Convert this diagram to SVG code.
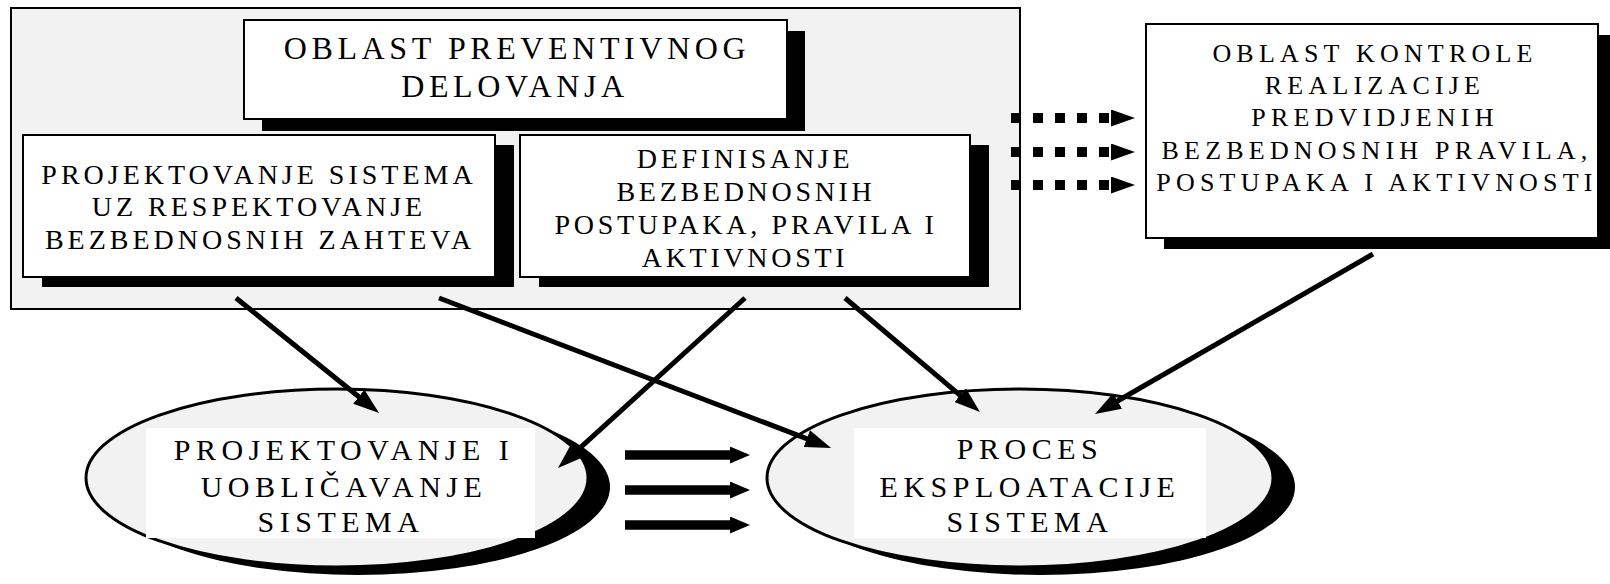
<svg xmlns="http://www.w3.org/2000/svg" width="1610" height="584" viewBox="0 0 1610 584">
<style>
.t{font-family:"Liberation Serif","Times New Roman",serif;fill:#000;text-anchor:middle}
.box{fill:#fff;stroke:#000;stroke-width:2}
.sh{fill:#000}
.conn{stroke:#000;stroke-width:5;fill:none}
.fat{stroke:#000;stroke-width:9.5;fill:none}
.dot{stroke:#000;stroke-width:10;stroke-dasharray:10 12;fill:none}
.ell{fill:#f2f2f2;stroke:#000;stroke-width:3}
</style>
<defs>
<marker id="ah" markerUnits="userSpaceOnUse" markerWidth="26" markerHeight="18" refX="4" refY="9" orient="auto">
<path d="M0,0 L26,9 L0,18 z" fill="#000"/>
</marker>
<marker id="ahf" markerUnits="userSpaceOnUse" markerWidth="20" markerHeight="17" refX="0" refY="8.5" orient="auto">
<path d="M0,0 L20,8.5 L0,17 z" fill="#000"/>
</marker>
<marker id="ahd" markerUnits="userSpaceOnUse" markerWidth="24" markerHeight="17" refX="0" refY="8.5" orient="auto">
<path d="M0,0 L24,8.5 L0,17 z" fill="#000"/>
</marker>
</defs>
<rect width="1610" height="584" fill="#fff"/>

<g id="preventive-area">
<rect x="11" y="8" width="1009" height="301" fill="#f2f2f2" stroke="#000" stroke-width="2"/>
</g>

<g id="title">
<rect class="sh" x="262" y="31" width="543" height="100"/>
<rect class="box" x="244" y="20" width="543" height="99"/>
<text class="t" font-size="32" letter-spacing="4.6" x="517" y="59">OBLAST PREVENTIVNOG</text>
<text class="t" font-size="32" letter-spacing="4.6" x="515" y="97">DELOVANJA</text>
</g>

<g id="design-box">
<rect class="sh" x="42" y="145" width="472" height="142"/>
<rect class="box" x="23" y="135" width="472" height="142"/>
<text class="t" font-size="28" letter-spacing="4" x="259" y="184">PROJEKTOVANJE SISTEMA</text>
<text class="t" font-size="28" letter-spacing="4" x="259" y="216">UZ RESPEKTOVANJE</text>
<text class="t" font-size="28" letter-spacing="4" x="260" y="249">BEZBEDNOSNIH ZAHTEVA</text>
</g>

<g id="rules-box">
<rect class="sh" x="539" y="145" width="450" height="142"/>
<rect class="box" x="520" y="135" width="450" height="142"/>
<text class="t" font-size="28" letter-spacing="3.7" x="745" y="168">DEFINISANJE</text>
<text class="t" font-size="28" letter-spacing="3.7" x="746" y="201">BEZBEDNOSNIH</text>
<text class="t" font-size="28" letter-spacing="3.7" x="746" y="234">POSTUPAKA, PRAVILA I</text>
<text class="t" font-size="28" letter-spacing="3.7" x="745" y="267">AKTIVNOSTI</text>
</g>

<g id="control-box">
<rect class="sh" x="1164" y="35" width="452" height="214"/>
<rect class="box" x="1146" y="24" width="452" height="214"/>
<text class="t" font-size="26" letter-spacing="5.2" x="1375" y="62">OBLAST KONTROLE</text>
<text class="t" font-size="26" letter-spacing="5.2" x="1375" y="94">REALIZACIJE</text>
<text class="t" font-size="26" letter-spacing="5.2" x="1375" y="126">PREDVIDJENIH</text>
<text class="t" font-size="26" letter-spacing="5.2" x="1377" y="159">BEZBEDNOSNIH PRAVILA,</text>
<text class="t" font-size="26" letter-spacing="5.2" x="1377" y="191">POSTUPAKA I AKTIVNOSTI</text>
</g>

<g id="design-ellipse">
<ellipse class="sh" cx="358" cy="487" rx="252" ry="88"/>
<ellipse class="ell" cx="337" cy="478" rx="251" ry="89"/>
<rect x="146" y="428" width="389" height="110" fill="#fff"/>
<text class="t" font-size="30" letter-spacing="5.5" x="344" y="460">PROJEKTOVANJE I</text>
<text class="t" font-size="30" letter-spacing="5.5" x="344" y="497">UOBLIČAVANJE</text>
<text class="t" font-size="30" letter-spacing="5.5" x="341" y="532">SISTEMA</text>
</g>

<g id="exploitation-ellipse">
<ellipse class="sh" cx="1041" cy="487" rx="254" ry="88"/>
<ellipse class="ell" cx="1020" cy="478" rx="253" ry="89"/>
<rect x="854" y="428" width="352" height="110" fill="#fff"/>
<text class="t" font-size="30" letter-spacing="5.5" x="1030" y="459">PROCES</text>
<text class="t" font-size="30" letter-spacing="5.5" x="1030" y="497">EKSPLOATACIJE</text>
<text class="t" font-size="30" letter-spacing="5.5" x="1030" y="532">SISTEMA</text>
</g>

<g id="connectors">
<line class="conn" x1="236" y1="298" x2="361.9" y2="399.2" marker-end="url(#ah)"/>
<line class="conn" x1="439" y1="298" x2="810.5" y2="440.1" marker-end="url(#ah)"/>
<line class="conn" x1="745" y1="298" x2="574.3" y2="453.2" marker-end="url(#ah)"/>
<line class="conn" x1="845" y1="298" x2="963.2" y2="397.8" marker-end="url(#ah)"/>
<line class="conn" x1="1373" y1="254" x2="1114.1" y2="403" marker-end="url(#ah)"/>
<line class="fat" x1="625" y1="455" x2="730" y2="455" marker-end="url(#ahf)"/>
<line class="fat" x1="625" y1="490" x2="730" y2="490" marker-end="url(#ahf)"/>
<line class="fat" x1="625" y1="525" x2="730" y2="525" marker-end="url(#ahf)"/>
<line class="dot" x1="1011" y1="118" x2="1111" y2="118" marker-end="url(#ahd)"/>
<line class="dot" x1="1011" y1="152" x2="1111" y2="152" marker-end="url(#ahd)"/>
<line class="dot" x1="1011" y1="185" x2="1111" y2="185" marker-end="url(#ahd)"/>
</g>
</svg>
